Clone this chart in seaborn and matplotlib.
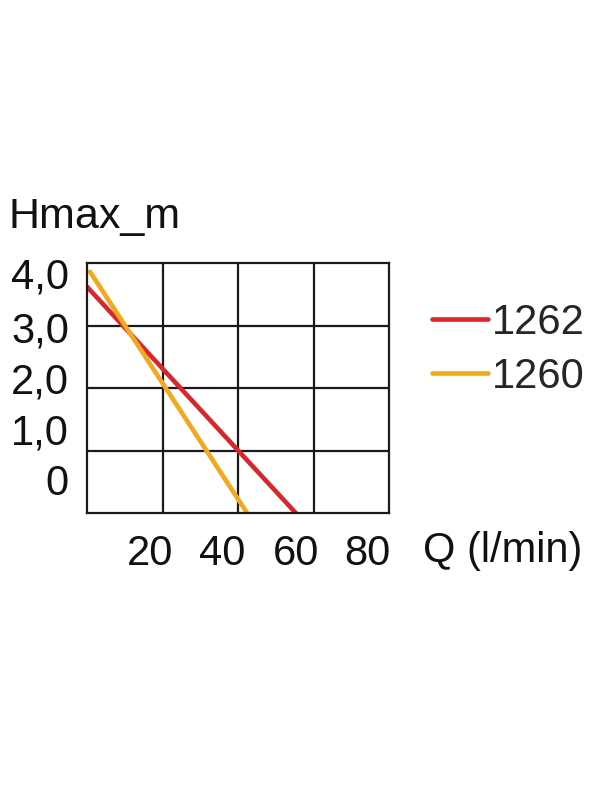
# pump curves, Hmax vs Q
import numpy as np
import pandas as pd
import matplotlib
matplotlib.use("Agg")
import matplotlib.pyplot as plt
import seaborn as sns

# %% data

models = ["1262", "1260"]
flow_1262 = [0.0, 55.3]      # l/min
head_1262 = [3.62, 0.0]      # m
flow_1260 = [0.8, 42.4]
head_1260 = [3.86, 0.0]
colors = ["#d8262d", "#f3a81e"]

x_ticks = [16.7, 35.8, 55.4, 74.4]          ## labels sit left of grid lines in the original
x_ticklabels = ["20", "40", "60", "80"]
y_ticks = [3.84, 2.98, 2.16, 1.34, 0.53]
y_ticklabels = ["4,0", "3,0", "2,0", "1,0", "0"]
x_grid = [20, 40, 60]
y_grid = [1, 2, 3]

df = pd.DataFrame({
    "Q": flow_1262 + flow_1260,
    "H": head_1262 + head_1260,
    "model": [models[0]] * len(flow_1262) + [models[1]] * len(flow_1260),
})

# %% plot

sns.set_theme(style="white")
plt.rcParams["font.family"] = ["Liberation Sans", "DejaVu Sans"]
fs = 30

fig = plt.figure(figsize=(6, 8), dpi=100)
ax = fig.add_axes([87 / 600, 1 - 513 / 800, 302 / 600, 250 / 800])

sns.lineplot(data=df, x="Q", y="H", hue="model", hue_order=models,
             palette=colors, linewidth=3.3, ax=ax, legend=True)

ax.set_xlim(0, 80)
ax.set_ylim(0, 4)

ax.set_xticks(x_ticks)
ax.set_xticklabels(x_ticklabels)
ax.set_yticks(y_ticks)
ax.set_yticklabels(y_ticklabels)
ax.set_xticks(x_grid, minor=True)
ax.set_yticks(y_grid, minor=True)
ax.tick_params(which="both", length=0)
ax.tick_params(axis="x", labelsize=fs, pad=15, colors="#111111")
ax.tick_params(axis="y", labelsize=fs, pad=13, colors="#111111")
ax.grid(False, which="major")
ax.grid(True, which="minor", color="#1a1a1a", linewidth=1.6)
ax.set_axisbelow(True)
for s in ax.spines.values():
    s.set_visible(True)
    s.set_color("#1a1a1a")
    s.set_linewidth(1.6)
ax.set_xlabel("")
ax.set_ylabel("")

fig.text(9 / 600, 1 - 228 / 800, "Hmax_m", fontsize=fs + 1, va="baseline",
         ha="left", color="#111111")
fig.text(423 / 600, 1 - 551 / 800, "Q (l/min)", fontsize=fs, va="center",
         ha="left", color="#111111")

leg = ax.legend(loc="upper left", bbox_to_anchor=(432 / 600, 1 - 303 / 800),
                bbox_transform=fig.transFigure, frameon=False, fontsize=fs,
                handlelength=1.35, handletextpad=0.08, labelspacing=0.33,
                borderpad=0, borderaxespad=0, title=None)
for line in leg.get_lines():
    line.set_linewidth(3.3)

fig.savefig("out.png", dpi=100, facecolor="white")
